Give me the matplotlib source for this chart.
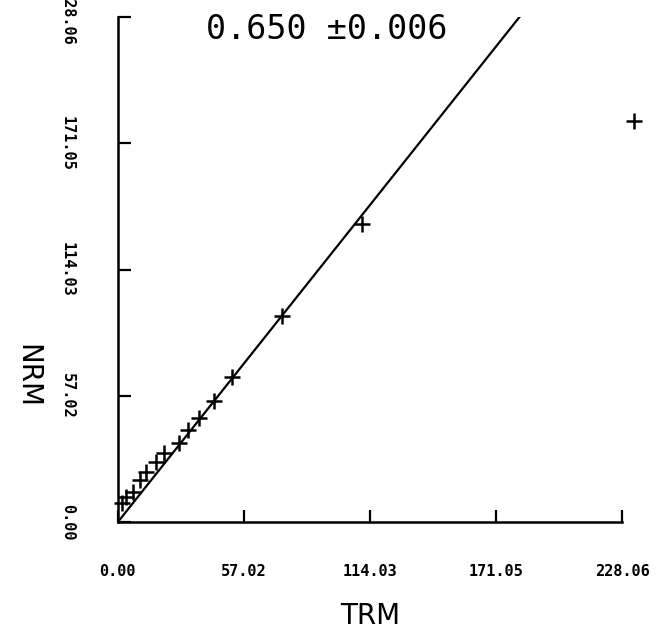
import matplotlib.pyplot as plt

# TRM / NRM pairs
trm = [1.9, 3.8, 6.7, 10.1, 12.7, 17.1, 20.9, 27.6, 31.7, 36.7, 43.7, 51.7, 74.1, 110.2, 233.2]
nrm = [8.7, 11.1, 13.8, 19.2, 22.8, 27.2, 31.4, 35.9, 41.7, 46.8, 54.9, 65.4, 93.0, 134.7, 181.3]

ticks = [0.00, 57.02, 114.03, 171.05, 228.06]
tick_labels = ["0.00", "57.02", "114.03", "171.05", "228.06"]

# fitted line through origin
fit_x = [0.0, 181.5]
fit_y = [0.0, 228.06]

fig = plt.figure(figsize=(6.62, 6.39), dpi=100)
ax = fig.add_axes([0.178, 0.183, 0.762, 0.79])

ax.plot(fit_x, fit_y, color="black", lw=1.6)
ax.plot(trm, nrm, "+", color="black", ms=11, mew=1.8, clip_on=False)

ax.set_xlim(0, 228.06)
ax.set_ylim(0, 228.06)
ax.set_xticks(ticks)
ax.set_yticks(ticks)
ax.set_xticklabels(tick_labels, family="DejaVu Sans Mono", fontweight="bold", fontsize=11)
ax.set_yticklabels(tick_labels, family="DejaVu Sans Mono", fontweight="bold", fontsize=11,
                   rotation=-90, va="center")
ax.tick_params(axis="x", direction="in", length=9, width=1.6, pad=30)
ax.tick_params(axis="y", direction="in", length=9, width=1.6, pad=31)

for s in ["top", "right"]:
    ax.spines[s].set_visible(False)
for s in ["left", "bottom"]:
    ax.spines[s].set_linewidth(1.8)

ax.set_xlabel("TRM", fontsize=20, labelpad=17)
ax.set_ylabel("NRM", fontsize=20, rotation=-90, va="center")
ax.yaxis.set_label_coords(-0.18, 0.29)

ax.text(0.415, 0.975, "0.650 \u00b10.006", transform=ax.transAxes, ha="center", va="center",
        fontsize=24, family="DejaVu Sans Mono")

fig.savefig("out.png", dpi=100)
